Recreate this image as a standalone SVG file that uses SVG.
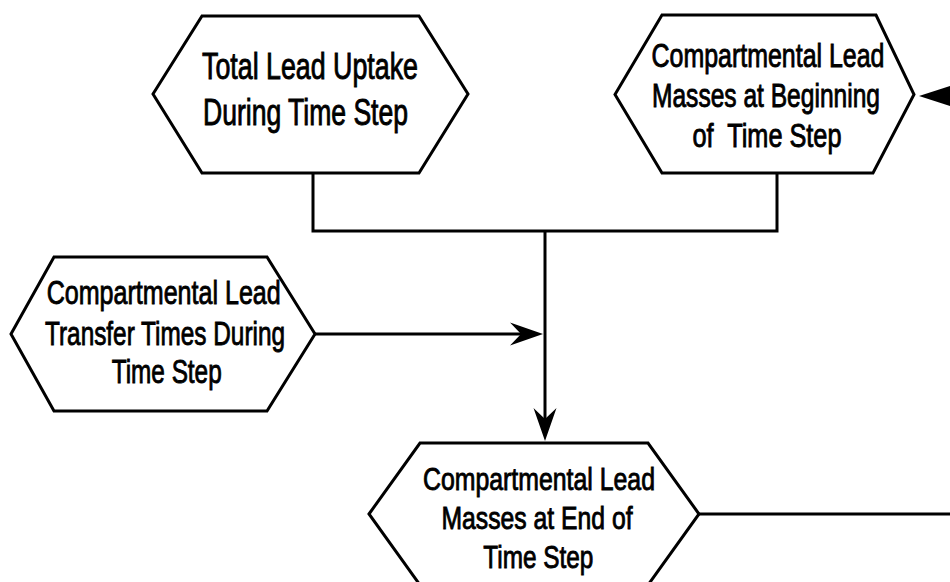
<svg xmlns="http://www.w3.org/2000/svg" width="950" height="582" viewBox="0 0 950 582">
<style>
.hex{fill:#fff;stroke:#000;stroke-width:3;stroke-linejoin:miter}
.con{fill:none;stroke:#000;stroke-width:3}
.t{font-family:"Liberation Sans Narrow","Liberation Sans",Arial,sans-serif;fill:#000;stroke:#000;stroke-width:0.9;text-anchor:middle}
</style>
<defs>
<marker id="arr" markerUnits="userSpaceOnUse" viewBox="-16 -13 38 26" markerWidth="38" markerHeight="26" refX="0" refY="0" orient="auto" overflow="visible">
<path d="M20,0 L-13,-11.5 L-2,0 L-13,11.5 Z" fill="#000"/>
</marker>
<marker id="arrB" markerUnits="userSpaceOnUse" viewBox="-22 -14 44 28" markerWidth="44" markerHeight="28" refX="0" refY="0" orient="auto" overflow="visible">
<path d="M20,0 L-20,-13 L-20,13 Z" fill="#000"/>
</marker>
</defs>
<rect width="950" height="582" fill="#fff"/>
<g id="connectors">
<polyline class="con" points="313,173 313,231 777,231 777,173"/>
<line class="con" x1="545" y1="231" x2="545" y2="421" marker-end="url(#arr)"/>
<line class="con" x1="315" y1="334" x2="523" y2="334" marker-end="url(#arr)"/>
<line class="con" x1="990" y1="96" x2="939" y2="96" marker-end="url(#arrB)"/>
<line class="con" x1="699" y1="514" x2="960" y2="514"/>
</g>
<g id="node-total-uptake">
<polygon class="hex" points="153,94 202,16 419,16 468,94 419,173 202,173"/>
<text class="t" font-size="36" x="310" y="79" textLength="216" lengthAdjust="spacingAndGlyphs">Total Lead Uptake</text>
<text class="t" font-size="36" x="305.5" y="125" textLength="205" lengthAdjust="spacingAndGlyphs">During Time Step</text>
</g>
<g id="node-masses-beginning">
<polygon class="hex" points="615,94.5 662,15 876,15 914,94.5 873,173 662,173"/>
<text class="t" font-size="33" x="768" y="67" textLength="233" lengthAdjust="spacingAndGlyphs">Compartmental Lead</text>
<text class="t" font-size="33" x="766" y="107" textLength="228" lengthAdjust="spacingAndGlyphs">Masses at Beginning</text>
<text class="t" font-size="33" x="767" y="147" textLength="149" lengthAdjust="spacingAndGlyphs" xml:space="preserve">of  Time Step</text>
</g>
<g id="node-transfer-times">
<polygon class="hex" points="11,334 54,257 267,257 315,334 267,411 54,411"/>
<text class="t" font-size="34" x="163.7" y="304" textLength="234" lengthAdjust="spacingAndGlyphs">Compartmental Lead</text>
<text class="t" font-size="34" x="165" y="345" textLength="240" lengthAdjust="spacingAndGlyphs">Transfer Times During</text>
<text class="t" font-size="34" x="166.7" y="383" textLength="110" lengthAdjust="spacingAndGlyphs">Time Step</text>
</g>
<g id="node-masses-end">
<polygon class="hex" points="369,514 420,443 648,443 699,514 648,585 420,585"/>
<text class="t" font-size="32" x="539" y="490" textLength="232" lengthAdjust="spacingAndGlyphs">Compartmental Lead</text>
<text class="t" font-size="32" x="537" y="528.5" textLength="191" lengthAdjust="spacingAndGlyphs">Masses at End of</text>
<text class="t" font-size="32" x="538.3" y="567.5" textLength="110" lengthAdjust="spacingAndGlyphs">Time Step</text>
</g>
</svg>
